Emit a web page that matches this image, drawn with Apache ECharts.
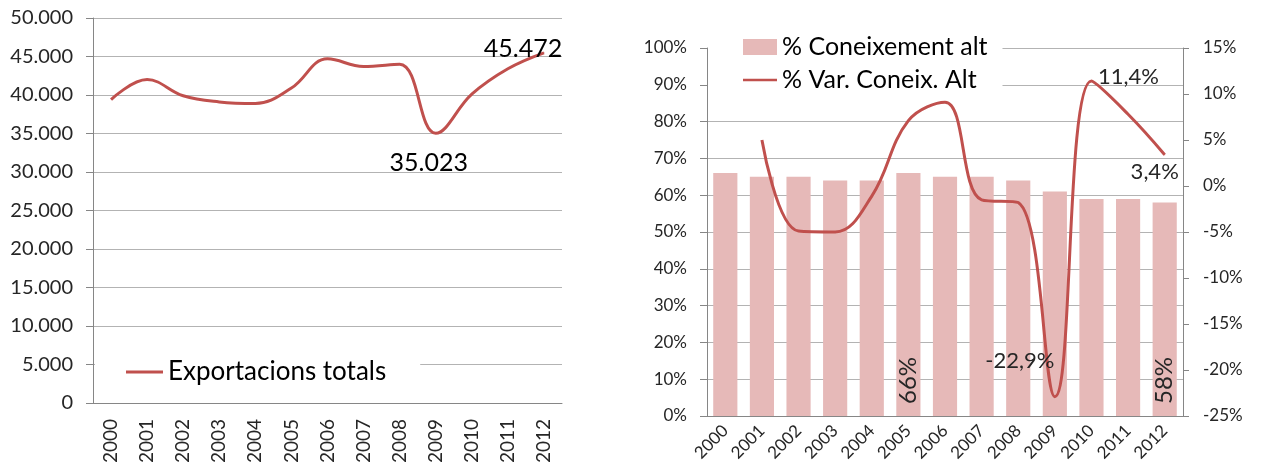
<!DOCTYPE html>
<html>
<head>
<meta charset="utf-8">
<script src="https://cdn.jsdelivr.net/npm/echarts@6/dist/echarts.min.js"></script>
<style>
  html, body { margin: 0; padding: 0; background: #fff; }
  #main { width: 1261px; height: 475px; }
</style>
</head>
<body>
<div id="main"></div>
<script>
// anys, comuns als dos gràfics
var years = ['2000','2001','2002','2003','2004','2005','2006','2007','2008','2009','2010','2011','2012'];

// gràfic esquerre: exportacions totals
var exportacions = [39400, 42000, 39900, 39100, 38900, 40900, 44700, 43700, 44000, 35023, 40100, 43400, 45472];
var expTicks = [0, 5000, 10000, 15000, 20000, 25000, 30000, 35000, 40000, 45000, 50000];

// gràfic dret: % coneixement alt (barres) i variació (línia)
var coneixement = [66, 65, 65, 64, 64, 66, 65, 65, 64, 61, 59, 59, 58];
var variacio = [null, 5.0, -4.9, -5.0, -1.1, 7.1, 9.1, -1.5, -1.8, -22.9, 11.4, 7.8, 3.4];
var pctTicksLeft = [0, 10, 20, 30, 40, 50, 60, 70, 80, 90, 100];
var pctTicksRight = [-25, -20, -15, -10, -5, 0, 5, 10, 15];

var FONT = 'Lato';
var RED = '#c0504d';
var AXIS = '#868686';
var GRID = '#b3b3b3';
var TXT = '#262626';
var LINE_ICON = 'path://M0,0H40V3H0Z';

function milers(v){
	return String(v).replace(/\B(?=(\d{3})+(?!\d))/g, '.');
}
function coma(v){
	return v.toFixed(1).replace('.', ',') + '%';
}

// quines etiquetes es veuen i on (desplaçament respecte al punt)
var expLabels = { 9: [-7, 30], 12: [-21, -4] };
var varLabels = { 9: [-35, -36], 10: [37, -4], 12: [-10, 17] };
var barLabels = [5, 12];

var expData = exportacions.map(function(v, i){
	var item = { value: v };
	if (expLabels[i]) {
		item.symbol = 'circle';
		item.symbolSize = 1;
		item.label = {
			show: true, position: 'inside', offset: expLabels[i],
			fontFamily: FONT, fontSize: 25, color: '#000',
			formatter: function(p){ return milers(p.value); }
		};
	}
	return item;
});

var varData = variacio.map(function(v, i){
	var item = { value: v };
	if (varLabels[i]) {
		item.symbol = 'circle';
		item.symbolSize = 1;
		item.label = {
			show: true, position: 'inside', offset: varLabels[i],
			fontFamily: FONT, fontSize: 22, color: TXT,
			formatter: function(p){ return coma(p.value); }
		};
	}
	return item;
});

var barData = coneixement.map(function(v, i){
	var item = { value: v };
	if (barLabels.indexOf(i) >= 0) {
		item.label = {
			show: true, position: 'insideBottom', rotate: 90,
			align: 'left', verticalAlign: 'middle', distance: 12,
			fontFamily: FONT, fontSize: 24, color: TXT,
			formatter: '{c}%'
		};
	}
	return item;
});

var chart = echarts.init(document.getElementById('main'), null, { renderer: 'canvas' });
chart.setOption({
	animation: false,
	backgroundColor: '#fff',
	grid: [
		{ left: 93, top: 18, width: 469, height: 385 },
		{ left: 707, top: 48, width: 476, height: 368 }
	],
	legend: [
		{
			left: 95, top: 353,
			padding: [4, 34, 4, 31],
			backgroundColor: '#fff',
			itemWidth: 37, itemHeight: 14,
			textStyle: { fontFamily: FONT, fontSize: 26, color: '#000', lineHeight: 30 },
			data: [{ name: 'Exportacions totals', icon: LINE_ICON }]
		},
		{
			left: 708, top: 28, orient: 'vertical',
			padding: [5, 15, 6, 35],
			itemGap: 5,
			backgroundColor: '#fff',
			itemWidth: 34, itemHeight: 16,
			textStyle: { fontFamily: FONT, fontSize: 25, color: '#000', lineHeight: 28 },
			data: [{ name: '% Coneixement alt', icon: 'rect' }, { name: '% Var. Coneix. Alt', icon: LINE_ICON }]
		}
	],
	xAxis: [
		{
			type: 'category', gridIndex: 0, data: years, boundaryGap: true,
			axisLine: { lineStyle: { color: AXIS } },
			axisTick: { lineStyle: { color: AXIS }, length: 6 },
			axisLabel: { rotate: 90, margin: 16, interval: 0, fontFamily: FONT, fontSize: 19, color: TXT },
			splitLine: { show: false }
		},
		{
			type: 'category', gridIndex: 1, data: years, boundaryGap: true,
			axisLine: { lineStyle: { color: AXIS } },
			axisTick: { lineStyle: { color: AXIS }, length: 6 },
			axisLabel: { rotate: 45, margin: 12, interval: 0, fontFamily: FONT, fontSize: 17, color: TXT },
			splitLine: { show: false }
		}
	],
	yAxis: [
		{
			type: 'value', gridIndex: 0,
			min: expTicks[0], max: expTicks[expTicks.length - 1], interval: expTicks[1] - expTicks[0],
			axisLine: { show: true, lineStyle: { color: AXIS } },
			axisTick: { show: true, length: 7, lineStyle: { color: AXIS } },
			axisLabel: { margin: 20, formatter: milers, fontFamily: FONT, fontSize: 20, color: TXT },
			splitLine: { lineStyle: { color: GRID } }
		},
		{
			type: 'value', gridIndex: 1, position: 'left',
			min: pctTicksLeft[0], max: pctTicksLeft[pctTicksLeft.length - 1], interval: pctTicksLeft[1] - pctTicksLeft[0],
			axisLine: { show: true, lineStyle: { color: AXIS } },
			axisTick: { show: true, length: 7, lineStyle: { color: AXIS } },
			axisLabel: { margin: 20, formatter: '{value}%', fontFamily: FONT, fontSize: 17, color: TXT },
			splitLine: { lineStyle: { color: GRID } }
		},
		{
			type: 'value', gridIndex: 1, position: 'right',
			min: pctTicksRight[0], max: pctTicksRight[pctTicksRight.length - 1], interval: pctTicksRight[1] - pctTicksRight[0],
			axisLine: { show: true, lineStyle: { color: AXIS } },
			axisTick: { show: true, length: 6, lineStyle: { color: AXIS } },
			axisLabel: { margin: 20, formatter: '{value}%', fontFamily: FONT, fontSize: 17, color: TXT },
			splitLine: { show: false }
		}
	],
	series: [
		{
			name: 'Exportacions totals', type: 'line',
			xAxisIndex: 0, yAxisIndex: 0,
			data: expData,
			smooth: 0.4, symbol: 'none', showAllSymbol: true,
			itemStyle: { color: RED },
			lineStyle: { color: RED, width: 3 }
		},
		{
			name: '% Coneixement alt', type: 'bar',
			xAxisIndex: 1, yAxisIndex: 1,
			data: barData, barWidth: '66%',
			itemStyle: { color: '#e6b9b8' }
		},
		{
			name: '% Var. Coneix. Alt', type: 'line',
			xAxisIndex: 1, yAxisIndex: 2,
			data: varData,
			smooth: 0.4, symbol: 'none', showAllSymbol: true,
			itemStyle: { color: RED },
			lineStyle: { color: RED, width: 3 }
		}
	]
});
</script>
</body>
</html>
